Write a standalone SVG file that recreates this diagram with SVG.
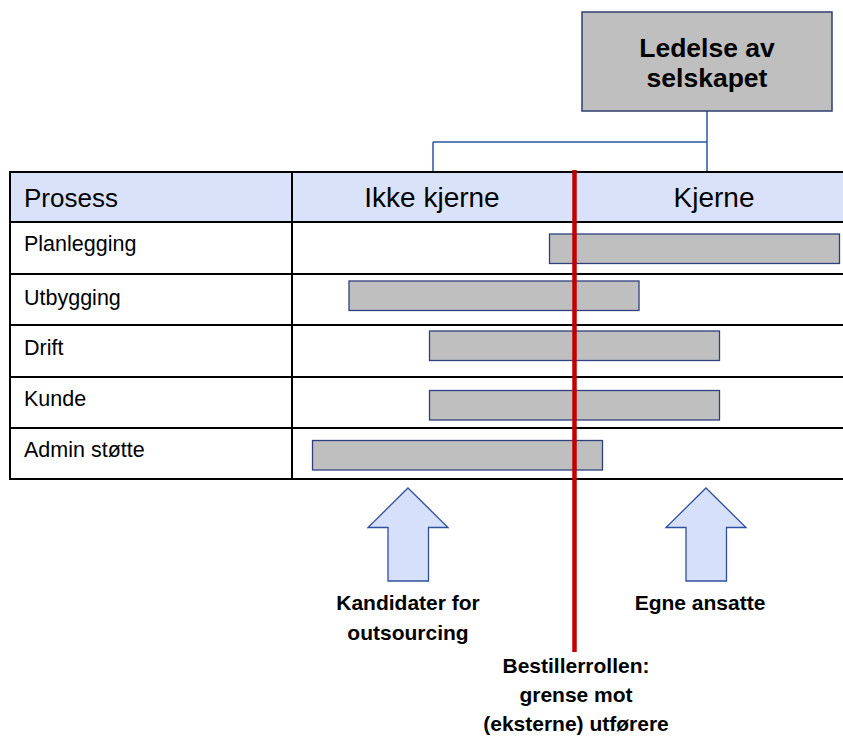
<svg xmlns="http://www.w3.org/2000/svg" width="843" height="738" viewBox="0 0 843 738">
  <style>
    .lbl { font-family: "Liberation Sans", Arial, sans-serif; fill: #000; }
    .head { font-size: 26px; }
    .col { font-size: 28px; }
    .row { font-size: 21.5px; }
    .bold { font-weight: bold; font-size: 21px; }
    .grid { stroke: #000; stroke-width: 2; fill: none; }
    .bar { fill: #bfbfbf; stroke: #2f3f7f; stroke-width: 1.3; }
    .arrow { fill: #d6e0fa; stroke: #2f4f9f; stroke-width: 1.3; }
    .conn { stroke: #2f55a4; stroke-width: 1.5; fill: none; }
  </style>
  <defs>
    <filter id="soft" x="-50%" y="-5%" width="200%" height="110%">
      <feGaussianBlur stdDeviation="1.5"/>
    </filter>
  </defs>

  <rect width="843" height="738" fill="#fff"/>

  <!-- connectors from management box down to the two column groups -->
  <g id="connectors">
    <path class="conn" d="M707,111 V172 M433,142 H707 M433,142 V172"/>
  </g>

  <!-- management box -->
  <g id="ledelse">
    <rect x="582" y="12" width="250" height="99" fill="#bfbfbf" stroke="#2f3f6f" stroke-width="1.5"/>
    <text class="lbl" x="707" y="57" font-size="26.5" font-weight="bold" text-anchor="middle">Ledelse av</text>
    <text class="lbl" x="707" y="87" font-size="26.5" font-weight="bold" text-anchor="middle">selskapet</text>
  </g>

  <!-- process table -->
  <g id="table">
    <rect x="10" y="172" width="833" height="50" fill="#d9e2f9"/>
    <path class="grid" d="M10,172 H843 M10,222 H843 M10,274 H843 M10,325 H843 M10,377 H843 M10,428 H843 M10,479 H843 M10,171 V480 M292,171 V480"/>
    <text class="lbl head" x="24" y="207">Prosess</text>
    <text class="lbl col" x="432" y="207" text-anchor="middle">Ikke kjerne</text>
    <text class="lbl col" x="714" y="207" text-anchor="middle">Kjerne</text>
    <text class="lbl row" x="24" y="251">Planlegging</text>
    <text class="lbl row" x="24" y="305">Utbygging</text>
    <text class="lbl row" x="24" y="355">Drift</text>
    <text class="lbl row" x="24" y="406">Kunde</text>
    <text class="lbl row" x="24" y="457">Admin støtte</text>
  </g>

  <!-- span bars per process -->
  <g id="bars">
    <rect class="bar" x="549.5" y="234" width="290" height="29.5"/>
    <rect class="bar" x="349" y="281" width="290" height="29.5"/>
    <rect class="bar" x="429.5" y="331" width="290" height="29.5"/>
    <rect class="bar" x="429.5" y="390.5" width="290" height="29.5"/>
    <rect class="bar" x="312.5" y="440.5" width="290" height="29.5"/>
  </g>

  <!-- ordering boundary line -->
  <g id="grense">
    <line x1="577" y1="171" x2="577" y2="654" stroke="#999" stroke-width="4" opacity="0.6" filter="url(#soft)"/>
    <line x1="574.5" y1="170" x2="574.5" y2="652" stroke="#c00000" stroke-width="4.5"/>
  </g>

  <!-- upward arrows -->
  <g id="pil-outsourcing">
    <polygon class="arrow" points="408,488 448,527.5 428.5,527.5 428.5,581 388,581 388,527.5 368,527.5"/>
  </g>
  <g id="pil-egne">
    <polygon class="arrow" points="706,488 746,527.5 726.5,527.5 726.5,581 686,581 686,527.5 666,527.5"/>
  </g>

  <!-- captions -->
  <g id="kandidater">
    <text class="lbl bold" x="408" y="610" text-anchor="middle">Kandidater for</text>
    <text class="lbl bold" x="408" y="640" text-anchor="middle">outsourcing</text>
  </g>
  <g id="egne">
    <text class="lbl bold" x="700" y="610" text-anchor="middle">Egne ansatte</text>
  </g>
  <g id="bestiller">
    <text class="lbl bold" x="576" y="673" text-anchor="middle">Bestillerrollen:</text>
    <text class="lbl bold" x="576" y="702" text-anchor="middle">grense mot</text>
    <text class="lbl bold" x="576" y="731" text-anchor="middle">(eksterne) utførere</text>
  </g>
</svg>
